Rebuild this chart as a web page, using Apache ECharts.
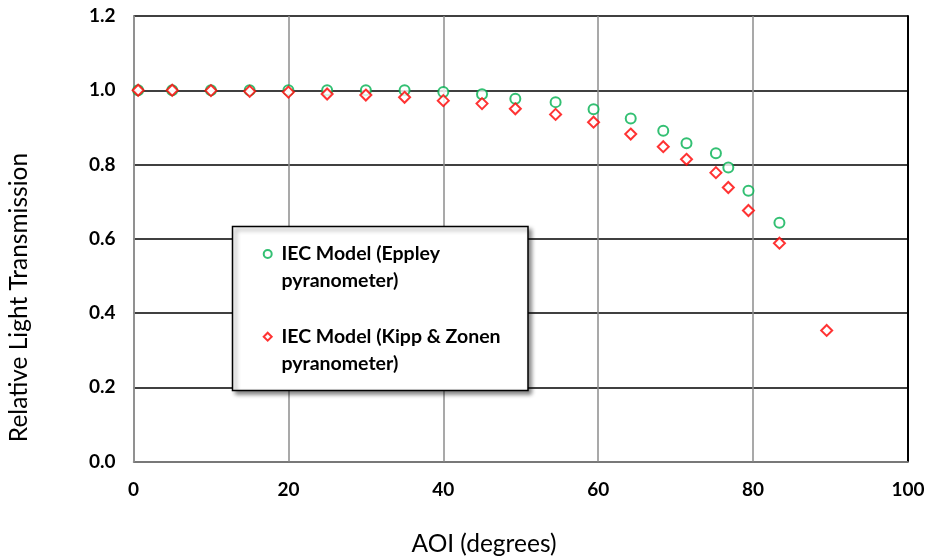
<!DOCTYPE html>
<html>
<head>
<meta charset="utf-8">
<script src="https://cdn.jsdelivr.net/npm/echarts@6/dist/echarts.min.js"></script>
<style>
html,body{margin:0;padding:0;background:#fff;}
#chart{width:928px;height:558px;}
</style>
</head>
<body>
<div id="chart"></div>
<script>
// Angle of incidence (degrees)
var aoi = [0.6, 5, 10, 15, 20, 25, 30, 35, 40, 45, 49.3, 54.5, 59.4, 64.2, 68.4, 71.4, 75.2, 76.8, 79.4, 83.4, 89.5];
// IEC Model (Eppley pyranometer)
var eppley = [1.0, 1.0, 1.0, 1.0, 1.0, 1.0, 1.0, 1.0, 0.995, 0.989, 0.977, 0.968, 0.949, 0.924, 0.891, 0.857, 0.830, 0.792, 0.729, 0.643, null];
// IEC Model (Kipp & Zonen pyranometer)
var kipp = [1.0, 1.0, 0.999, 0.997, 0.995, 0.990, 0.987, 0.981, 0.972, 0.964, 0.950, 0.935, 0.914, 0.882, 0.848, 0.814, 0.778, 0.738, 0.676, 0.588, 0.353];

var seriesNames = ['IEC Model (Eppley pyranometer)', 'IEC Model (Kipp & Zonen pyranometer)'];
var legendLines = {
  'IEC Model (Eppley pyranometer)': ['IEC Model (Eppley', 'pyranometer)'],
  'IEC Model (Kipp & Zonen pyranometer)': ['IEC Model (Kipp & Zonen', 'pyranometer)']
};
var xTitle = 'AOI (degrees)';
var yTitle = 'Relative Light Transmission';

function pairs(xs, ys) {
  var out = [];
  for (var i = 0; i < xs.length; i++) {
    if (ys[i] !== null && ys[i] !== undefined) out.push([xs[i], ys[i]]);
  }
  return out;
}

var FONT = 'Lato';
var chart = echarts.init(document.getElementById('chart'), null, {renderer: 'canvas'});
var option = {
  backgroundColor: '#ffffff',
  animation: false,
  grid: {left: 133.5, right: 20, top: 16, bottom: 96.5, containLabel: false},
  xAxis: {
    type: 'value', min: 0, max: 100, interval: 20,
    axisLine: {show: true, lineStyle: {color: '#8a8a8a', width: 1.5}},
    axisTick: {show: false},
    axisLabel: {fontFamily: FONT, fontWeight: 'bold', fontSize: 19, color: '#000', margin: 19},
    splitLine: {show: true, lineStyle: {color: '#8c8c8c', width: 1.5}}
  },
  yAxis: [{
    type: 'value', min: 0, max: 1.2, interval: 0.2,
    axisLine: {show: true, lineStyle: {color: '#8a8a8a', width: 1.5}},
    axisTick: {show: false},
    axisLabel: {fontFamily: FONT, fontWeight: 'bold', fontSize: 19, color: '#000', margin: 18,
      formatter: function (v) { return v.toFixed(1); }},
    splitLine: {show: true, lineStyle: {color: '#000', width: 1.5}}
  }, {
    type: 'value', min: 0, max: 1.2, interval: 0.2, position: 'right',
    axisLine: {show: true, lineStyle: {color: '#000', width: 2}},
    axisTick: {show: false}, axisLabel: {show: false}, splitLine: {show: false}
  }],
  legend: {
    orient: 'vertical',
    left: 262.7,
    top: 213.5,
    padding: 0,
    itemGap: 1.7,
    itemWidth: 8,
    itemHeight: 8,
    z: 20,
    data: seriesNames,
    formatter: function (name) { var l = legendLines[name]; return '\n ' + l[0] + '\n ' + l[1]; },
    textStyle: {fontFamily: FONT, fontWeight: 'bold', fontSize: 19.5, color: '#000', lineHeight: 27}
  },
  graphic: [
    {type: 'rect', z: 10, shape: {x: 232.5, y: 226.5, width: 295.5, height: 164}, style: {fill: '#fff', stroke: '#000', lineWidth: 1.5, shadowColor: 'rgba(0,0,0,0.45)', shadowBlur: 4, shadowOffsetX: 3, shadowOffsetY: 3}},
    {type: 'text', z: 10, x: 484, y: 544.5, style: {text: xTitle, font: '24.5px ' + FONT, fill: '#000', textAlign: 'center', textVerticalAlign: 'middle'}},
    {type: 'text', z: 10, x: 19, y: 297.5, rotation: Math.PI / 2, style: {text: yTitle, font: '24.5px ' + FONT, fill: '#000', textAlign: 'center', textVerticalAlign: 'middle'}}
  ],
  series: [{
    name: seriesNames[0], type: 'scatter', symbol: 'emptyCircle', symbolSize: 10, z: 5,
    itemStyle: {color: '#00b050', borderColor: '#00b050', borderWidth: 2.2},
    data: pairs(aoi, eppley)
  }, {
    name: seriesNames[1], type: 'scatter', symbol: 'emptyDiamond', symbolSize: 11, z: 6,
    itemStyle: {color: '#ff0000', borderColor: '#ff0000', borderWidth: 2.2},
    data: pairs(aoi, kipp)
  }]
};
chart.setOption(option);
</script>
</body>
</html>
